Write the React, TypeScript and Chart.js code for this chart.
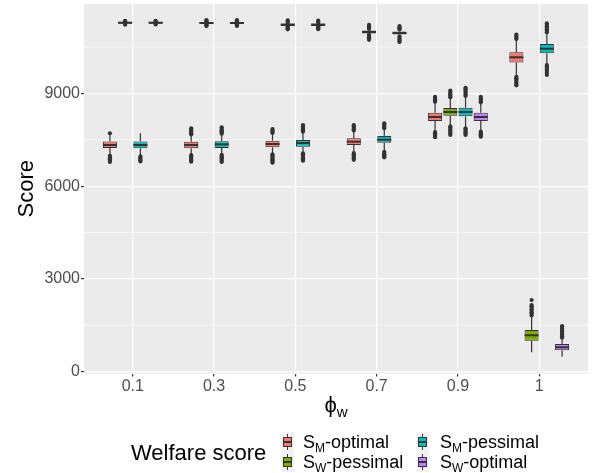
import React, { useEffect, useRef } from 'react';
import { Chart, registerables } from 'chart.js';

Chart.register(...registerables);

const FONT = '"Liberation Sans", Arial, Helvetica, sans-serif';

// ---- data ----
const categories = ['0.1', '0.3', '0.5', '0.7', '0.9', '1'];
const seriesNames = ['SM-optimal', 'SW-pessimal', 'SM-pessimal', 'SW-optimal'];
const seriesColors = ['#F8766D', '#7CAE00', '#00BFC4', '#C77CFF'];

// S_M-optimal
const smOptLow = [7040, 7030, 7050, 7090, 7770, 9560];
const smOptQ1 = [7230, 7223, 7255, 7330, 8105, 9995];
const smOptMed = [7330, 7330, 7362, 7437, 8235, 10165];
const smOptQ3 = [7440, 7436, 7469, 7546, 8374, 10326];
const smOptHigh = [7670, 7640, 7700, 7780, 8710, 10740];
const smOptOut = [
  [7710, 6980, 6940, 6900, 6860, 6820, 6780],
  [7670, 7710, 7750, 7790, 7830, 7870, 7000, 6960, 6920, 6880, 6840, 6790],
  [7720, 7760, 7800, 7846, 7030, 6990, 6950, 6910, 6870, 6830, 6790, 6757],
  [7800, 7840, 7880, 7930, 7976, 7070, 7030, 6990, 6950, 6900, 6850],
  [8730, 8770, 8810, 8850, 8890, 7750, 7710, 7670, 7630, 7580],
  [10760, 10800, 10850, 10900, 9530, 9490, 9450, 9400, 9350, 9300, 9260],
];

// S_W-pessimal
const swPesLow = [11245, 11235, 11165, 10925, 7950, 627];
const swPesQ1 = [11250, 11240, 11177, 10933, 8277, 1002];
const swPesMed = [11283, 11273, 11219, 10983, 8396, 1177];
const swPesQ3 = [11316, 11306, 11261, 11033, 8525, 1348];
const swPesHigh = [11322, 11312, 11273, 11041, 8850, 1800];
const swPesOut = [
  [11220, 11240, 11330, 11345],
  [11175, 11200, 11225, 11325, 11345, 11370],
  [11070, 11100, 11130, 11160, 11290, 11320, 11360],
  [10730, 10770, 10810, 10850, 10890, 11080, 11120, 11160, 11210],
  [8870, 8910, 8950, 8990, 9040, 9085, 7930, 7890, 7850, 7800, 7750, 7700, 7652],
  [1820, 1870, 1920, 1970, 2020, 2070, 2120, 2157, 2318],
];

// S_M-pessimal
const smPesLow = [6990, 7025, 7075, 7120, 7890, 9930];
const smPesQ1 = [7225, 7235, 7276, 7404, 8257, 10294];
const smPesMed = [7330, 7351, 7394, 7500, 8396, 10443];
const smPesQ3 = [7440, 7450, 7490, 7620, 8535, 10595];
const smPesHigh = [7708, 7670, 7740, 7850, 8900, 10950];
const smPesOut = [
  [6960, 6920, 6880, 6840, 6800],
  [7690, 7730, 7770, 7810, 7850, 7900, 7010, 6970, 6930, 6890, 6850, 6810, 6780],
  [7760, 7800, 7840, 7880, 7930, 7976, 7060, 7020, 6980, 6940, 6900, 6860, 6822],
  [7870, 7910, 7950, 7990, 8030, 7110, 7070, 7030, 6990, 6950, 6930],
  [8913, 8960, 9010, 9060, 9110, 9150, 9180, 7870, 7830, 7790, 7740, 7700, 7652],
  [10973, 11020, 11070, 11120, 11170, 11220, 11264, 9916, 9870, 9820, 9770, 9720, 9660, 9592],
];

// S_W-optimal
const swOptLow = [11245, 11235, 11165, 10893, 7780, 485];
const swOptQ1 = [11250, 11240, 11177, 10900, 8105, 692];
const swOptMed = [11283, 11273, 11219, 10950, 8235, 789];
const swOptQ3 = [11316, 11306, 11261, 11000, 8374, 895];
const swOptHigh = [11322, 11312, 11273, 11008, 8700, 1080];
const swOptOut = [
  [11225, 11240, 11330, 11345],
  [11180, 11205, 11230, 11320, 11345, 11365],
  [11075, 11105, 11135, 11165, 11290, 11320, 11355],
  [10660, 10700, 10740, 10790, 10840, 11060, 11100, 11140, 11177],
  [8710, 8750, 8790, 8830, 8890, 7760, 7720, 7680, 7640, 7597],
  [1099, 1150, 1200, 1250, 1300, 1350, 1400, 1450, 1477],
];

const yMajorTicks = [0, 3000, 6000, 9000];
const yMinorLines = [1500, 4500, 7500, 10500];
const yMin = -58;
const yMax = 11888;

const seriesStats = [
  { low: smOptLow, q1: smOptQ1, med: smOptMed, q3: smOptQ3, high: smOptHigh, out: smOptOut },
  { low: swPesLow, q1: swPesQ1, med: swPesMed, q3: swPesQ3, high: swPesHigh, out: swPesOut },
  { low: smPesLow, q1: smPesQ1, med: smPesMed, q3: smPesQ3, high: smPesHigh, out: smPesOut },
  { low: swOptLow, q1: swOptQ1, med: swOptMed, q3: swOptQ3, high: swOptHigh, out: swOptOut },
];

const INK = '#333333';

const boxPlugin = {
  id: 'boxExtras',
  beforeDraw(chart: any) {
    const { ctx, chartArea: a, scales } = chart;
    ctx.save();
    ctx.fillStyle = '#EBEBEB';
    ctx.fillRect(a.left, a.top, a.right - a.left, a.bottom - a.top);
    ctx.strokeStyle = '#FFFFFF';
    ctx.lineWidth = 0.6;
    yMinorLines.forEach((v) => {
      const y = scales.y.getPixelForValue(v);
      ctx.beginPath();
      ctx.moveTo(a.left, y);
      ctx.lineTo(a.right, y);
      ctx.stroke();
    });
    ctx.restore();
  },
  beforeDatasetsDraw(chart: any) {
    const { ctx, scales } = chart;
    ctx.save();
    ctx.strokeStyle = INK;
    ctx.lineWidth = 1.2;
    seriesStats.forEach((s, di) => {
      const meta = chart.getDatasetMeta(di);
      meta.data.forEach((el: any, j: number) => {
        const x = el.x;
        const pairs = [
          [s.q3[j], s.high[j]],
          [s.q1[j], s.low[j]],
        ];
        pairs.forEach(([a, b]) => {
          ctx.beginPath();
          ctx.moveTo(x, scales.y.getPixelForValue(a));
          ctx.lineTo(x, scales.y.getPixelForValue(b));
          ctx.stroke();
        });
      });
    });
    ctx.restore();
  },
  afterDatasetsDraw(chart: any) {
    const { ctx, scales } = chart;
    ctx.save();
    seriesStats.forEach((s, di) => {
      const meta = chart.getDatasetMeta(di);
      meta.data.forEach((el: any, j: number) => {
        const x = el.x;
        const w = el.width;
        ctx.strokeStyle = INK;
        ctx.lineWidth = 2;
        const ym = scales.y.getPixelForValue(s.med[j]);
        ctx.beginPath();
        ctx.moveTo(x - w / 2, ym);
        ctx.lineTo(x + w / 2, ym);
        ctx.stroke();
        ctx.fillStyle = INK;
        s.out[j].forEach((v: number) => {
          ctx.beginPath();
          ctx.arc(x, scales.y.getPixelForValue(v), 2.1, 0, Math.PI * 2);
          ctx.fill();
        });
      });
    });
    ctx.restore();
  },
  afterDraw(chart: any) {
    const { ctx, chartArea: a } = chart;
    ctx.save();
    ctx.fillStyle = '#000000';
    // y title
    ctx.font = `22px ${FONT}`;
    ctx.textAlign = 'center';
    ctx.textBaseline = 'alphabetic';
    ctx.translate(33, (a.top + a.bottom) / 2);
    ctx.rotate(-Math.PI / 2);
    ctx.fillText('Score', 0, 0);
    ctx.setTransform(1, 0, 0, 1, 0, 0);
    // x title phi_w
    const main = 'ϕ';
    const sub = 'w';
    ctx.font = `22px ${FONT}`;
    const mw = ctx.measureText(main).width;
    ctx.font = `15px ${FONT}`;
    const sw = ctx.measureText(sub).width;
    const start = (a.left + a.right) / 2 - (mw + sw) / 2;
    ctx.textAlign = 'left';
    ctx.font = `22px ${FONT}`;
    ctx.fillText(main, start, 412);
    ctx.font = `15px ${FONT}`;
    ctx.fillText(sub, start + mw, 417);
    ctx.restore();
  },
};

function LegendKey({ color, left, top }: { color: string; left: number; top: number }) {
  return (
    <div style={{ position: 'absolute', left, top, width: 13, height: 20, background: '#F2F2F2' }}>
      <div style={{ position: 'absolute', left: 6, top: 2, width: 1, height: 16, background: INK }} />
      <div
        style={{
          position: 'absolute',
          left: 2,
          top: 5,
          width: 7,
          height: 8,
          background: color,
          border: `1px solid ${INK}`,
        }}
      />
      <div style={{ position: 'absolute', left: 2, top: 9, width: 9, height: 1.5, background: INK }} />
    </div>
  );
}

function LegendLabel({ main, sub, rest, left, top }: { main: string; sub: string; rest: string; left: number; top: number }) {
  return (
    <div
      style={{
        position: 'absolute',
        left,
        top,
        fontFamily: FONT,
        fontSize: 18,
        lineHeight: '18px',
        whiteSpace: 'nowrap',
        color: '#000',
      }}
    >
      {main}
      <span style={{ fontSize: 12, position: 'relative', top: 3.5 }}>{sub}</span>
      {rest}
    </div>
  );
}

export default function App() {
  const ref = useRef<HTMLCanvasElement | null>(null);

  useEffect(() => {
    if (!ref.current) return;
    const datasets = seriesStats.map((s, i) => ({
      label: seriesNames[i],
      data: categories.map((_, j) => ({ x: j, y: [s.q1[j], s.q3[j]] })),
      backgroundColor: seriesColors[i],
      borderColor: INK,
      borderWidth: 1,
      borderSkipped: false,
      categoryPercentage: 0.75,
      barPercentage: 0.92,
    }));
    const chart = new Chart(ref.current, {
      type: 'bar',
      data: { datasets } as any,
      options: {
        animation: false,
        responsive: false,
        layout: { padding: { top: 4, right: 5, left: 0, bottom: 0 } },
        plugins: { legend: { display: false }, tooltip: { enabled: false } },
        scales: {
          x: {
            type: 'linear',
            min: -0.6,
            max: 5.6,
            offset: false,
            grid: { color: '#FFFFFF', lineWidth: 1.2, tickColor: INK, tickLength: 3, offset: false },
            border: { display: false },
            ticks: {
              color: '#4D4D4D',
              font: { family: FONT, size: 16 },
              padding: 0,
              autoSkip: false,
              maxRotation: 0,
              callback: (v: any) => categories[v] ?? '',
            },
            afterBuildTicks: (s: any) => {
              s.ticks = categories.map((_, i) => ({ value: i }));
            },
            afterFit: (s: any) => {
              s.height = 99.5;
              s.paddingLeft = 0;
              s.paddingRight = 0;
            },
          },
          y: {
            type: 'linear',
            min: yMin,
            max: yMax,
            grid: { color: '#FFFFFF', lineWidth: 1.2, tickColor: INK, tickLength: 3 },
            border: { display: false },
            ticks: {
              color: '#4D4D4D',
              font: { family: FONT, size: 16 },
              padding: 1,
              callback: (v: any) => String(v),
            },
            afterBuildTicks: (s: any) => {
              s.ticks = yMajorTicks.map((v) => ({ value: v }));
            },
            afterFit: (s: any) => {
              s.width = 84;
              s.paddingTop = 0;
              s.paddingBottom = 0;
            },
          },
        },
      } as any,
      plugins: [boxPlugin as any],
    });
    return () => chart.destroy();
  }, []);

  return (
    <div style={{ position: 'fixed', left: 0, top: 0, width: 593, height: 473, background: '#FFFFFF', overflow: 'hidden' }}>
      <canvas ref={ref} width={593} height={473} style={{ display: 'block', width: 593, height: 473 }} />
      <div
        style={{
          position: 'absolute',
          left: 131,
          top: 442,
          fontFamily: FONT,
          fontSize: 22,
          lineHeight: '22px',
          whiteSpace: 'nowrap',
          color: '#000',
        }}
      >
        Welfare score
      </div>
      <LegendKey color={seriesColors[0]} left={281} top={432} />
      <LegendKey color={seriesColors[1]} left={281} top={452} />
      <LegendKey color={seriesColors[2]} left={416} top={432} />
      <LegendKey color={seriesColors[3]} left={416} top={452} />
      <LegendLabel main="S" sub="M" rest="-optimal" left={303} top={433} />
      <LegendLabel main="S" sub="W" rest="-pessimal" left={303} top={453} />
      <LegendLabel main="S" sub="M" rest="-pessimal" left={440} top={433} />
      <LegendLabel main="S" sub="W" rest="-optimal" left={440} top={453} />
    </div>
  );
}
